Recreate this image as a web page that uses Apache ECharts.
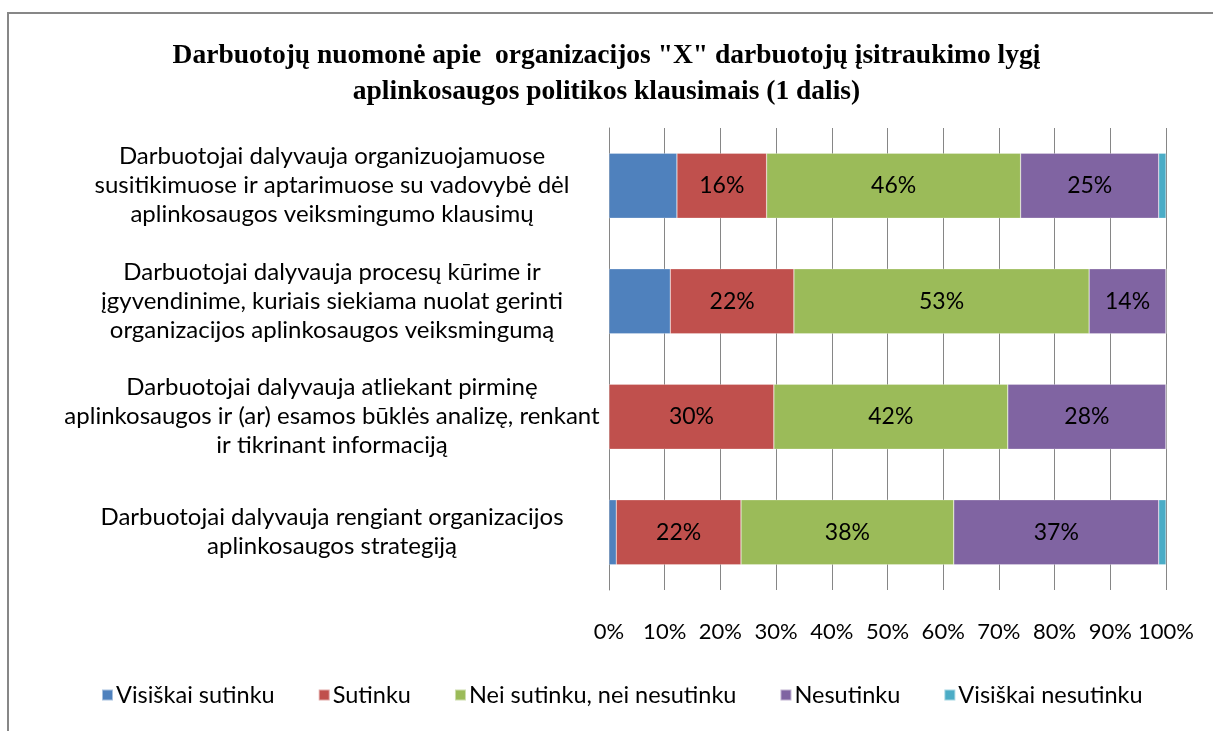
<!DOCTYPE html>
<html><head><meta charset="utf-8">
<script src="https://cdn.jsdelivr.net/npm/echarts@6/dist/echarts.min.js"></script>
<style>html,body{margin:0;padding:0;background:#fff}#c{width:1213px;height:731px}</style>
</head><body><div id="c"></div>
<script>
const categories = [
  "Darbuotojai dalyvauja organizuojamuose\nsusitikimuose ir aptarimuose su vadovybė dėl\naplinkosaugos veiksmingumo klausimų",
  "Darbuotojai dalyvauja procesų kūrime ir\nįgyvendinime, kuriais siekiama nuolat gerinti\norganizacijos aplinkosaugos veiksmingumą",
  "Darbuotojai dalyvauja atliekant pirminę\naplinkosaugos ir (ar) esamos būklės analizę, renkant\nir tikrinant informaciją",
  "Darbuotojai dalyvauja rengiant organizacijos\naplinkosaugos strategiją"
];
const seriesNames = ["Visiškai sutinku", "Sutinku", "Nei sutinku, nei nesutinku", "Nesutinku", "Visiškai nesutinku"];
const visiskaiSutinku   = [12.2, 11.0, 0,    1.3];
const sutinku           = [16.1, 22.2, 29.6, 22.4];
const neiSutinku        = [45.6, 53.0, 42.0, 38.2];
const nesutinku         = [24.8, 13.8, 28.4, 36.8];
const visiskaiNesutinku = [1.3,  0,    0,    1.3];
const showLabel = [false, true, true, true, false];
const colors = ["#4F81BD", "#C0504D", "#9BBB59", "#8064A2", "#4BACC6"];
const xTicks = [0, 10, 20, 30, 40, 50, 60, 70, 80, 90, 100];
const titleText = "Darbuotojų nuomonė apie  organizacijos \"X\" darbuotojų įsitraukimo lygį\naplinkosaugos politikos klausimais (1 dalis)";

const allData = [visiskaiSutinku, sutinku, neiSutinku, nesutinku, visiskaiNesutinku];
const font = "Lato, 'Noto Sans', sans-serif";
const chart = echarts.init(document.getElementById('c'), null, {renderer: 'canvas'});
chart.setOption({
  animation: false,
  color: colors,
  title: {
    text: titleText, left: 'center', top: 33,
    textStyle: {fontFamily: "'Liberation Serif', serif", fontWeight: 'bold', fontSize: 27.5, lineHeight: 36, color: '#000'}
  },
  graphic: [{
    type: 'rect', shape: {x: 8, y: 13, width: 1230, height: 760},
    style: {fill: 'none', stroke: '#878787', lineWidth: 2}, silent: true
  }],
  legend: {
    bottom: 19, left: 96, itemWidth: 11, itemHeight: 11, itemGap: 43, icon: 'rect',
    textStyle: {fontFamily: font, fontSize: 23.5, color: '#000', padding: [0,0,0,-2]},
    data: seriesNames
  },
  grid: {left: 609, right: 47, top: 128, bottom: 141, containLabel: false, outerBoundsMode: 'none'},
  xAxis: {
    type: 'value', min: 0, max: 100, interval: 10,
    axisLine: {show: false}, axisTick: {show: false},
    splitLine: {show: true, lineStyle: {color: '#868686', width: 1}},
    axisLabel: {formatter: v => v + '%', margin: 31, fontFamily: font, fontSize: 22, color: '#000'}
  },
  yAxis: {
    type: 'category', inverse: true, data: categories,
    axisLine: {show: true, lineStyle: {color: '#868686', width: 1}},
    axisTick: {show: false},
    axisLabel: {margin: 277, align: 'center', fontFamily: font, fontSize: 24, lineHeight: 29, color: '#000'}
  },
  series: seriesNames.map((name, i) => ({
    name, type: 'bar', stack: 'total', barWidth: 65,
    data: allData[i],
    itemStyle: {borderColor: 'rgba(255,255,255,0.5)', borderWidth: 0.5},
    label: {
      show: showLabel[i], position: 'inside', fontFamily: font, fontSize: 23, color: '#000',
      formatter: p => p.value > 0 ? Math.round(p.value) + '%' : ''
    }
  }))
});
</script></body></html>
